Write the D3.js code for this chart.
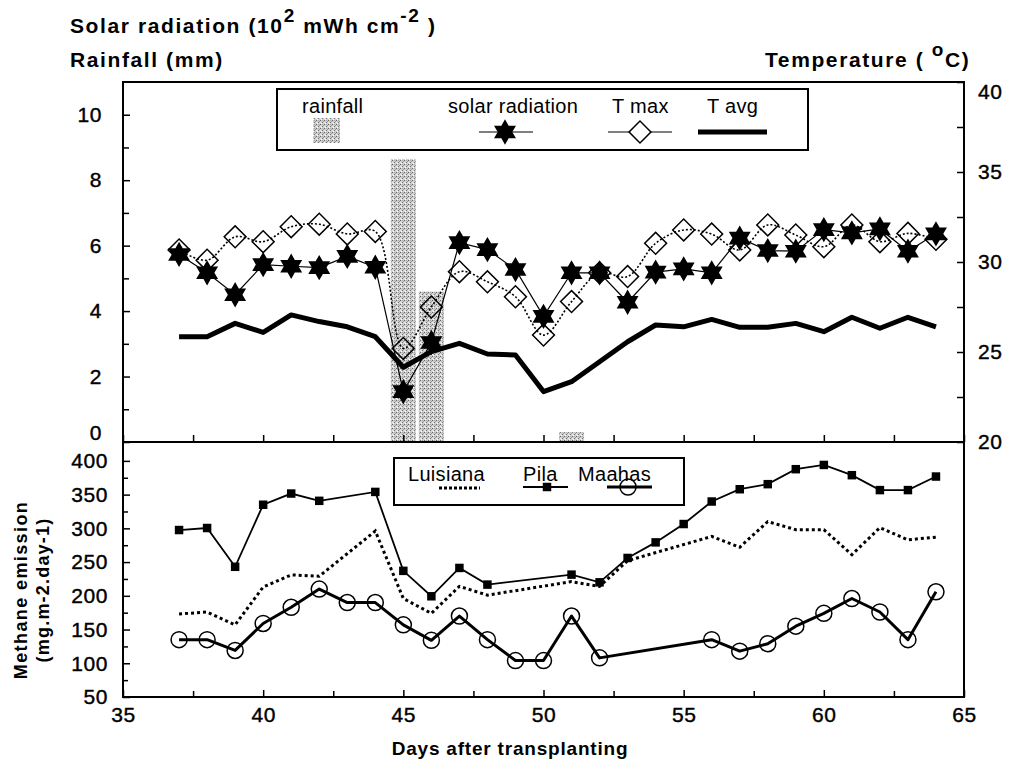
<!DOCTYPE html>
<html><head><meta charset="utf-8">
<script src="https://d3js.org/d3.v7.min.js"></script>
<style>
body{margin:0;background:#fff;}
svg{font-family:"Liberation Sans",Arial,Helvetica,sans-serif;}
</style></head>
<body><svg id="c" width="1021" height="765"></svg>
<script>
// ---------- data ----------
const days = [37,38,39,40,41,42,43,44,45,46,47,48,49,50,51,52,53,54,55,56,57,58,59,60,61,62,63,64];
const solarRadiation = [5.73,5.17,4.5,5.42,5.37,5.33,5.67,5.34,1.54,3.04,6.09,5.88,5.27,3.84,5.17,5.17,4.27,5.19,5.29,5.17,6.23,5.85,5.83,6.49,6.39,6.51,5.83,6.36];
const tMax = [30.67,30.1,31.4,31.13,31.96,32.1,31.56,31.7,25.2,27.5,29.46,28.9,28.07,25.94,27.8,29.4,29.19,31.04,31.78,31.55,30.67,32.06,31.5,30.85,32.06,31.13,31.59,31.26];
const tAvg = [25.85,25.85,26.59,26.09,27.06,26.69,26.4,25.85,24.15,25.02,25.48,24.89,24.83,22.8,23.35,24.46,25.57,26.5,26.4,26.81,26.37,26.37,26.59,26.13,26.93,26.32,26.93,26.4];
const rainDays = [45,46,51];
const rainfall = [8.65,4.6,0.3];

const pilaDays = [37,38,39,40,41,42,44,45,46,47,48,51,52,53,54,55,56,57,58,59,60,61,62,63,64];
const pila = [297.5,300.5,243,335,351.6,340.8,354,237,199.3,241.3,216.6,231.4,220,256.1,279.2,306.4,339.8,358,365.5,387.7,394,378.8,356.7,356.7,376.8];
const luisianaDays = [37,38,39,40,41,42,44,45,46,47,48,51,52,53,56,57,58,59,60,61,62,63,64];
const luisiana = [173,176,157,213,231,229,296,196,174,214,201,221,214,252,288,272,310,298,298,261,301,283,287];
const maahasDays = [37,38,39,40,41,42,43,44,45,46,47,48,49,50,51,52,56,57,58,59,60,61,62,63,64];
const maahas = [135,135,119,159,183,210,190,190,157,134,170,135,104,104,170,108,135,118,129,155,174,196,176,135,206];

const xTicks = [35,40,45,50,55,60,65];
const xMinorTicks = [37.5,42.5,47.5,52.5,57.5,62.5];
const leftTopTicks = [0,2,4,6,8,10];
const leftTopMinor = [1,3,5,7,9];
const rightTicks = [20,25,30,35,40];
const rightMinor = [22.5,27.5,32.5,37.5];
const methTicks = [50,100,150,200,250,300,350,400];
const methMinor = [75,125,175,225,275,325,375];

// ---------- layout ----------
const svg = d3.select("#c");
const X0 = 123, X1 = 964, YT = 82, YM = 442, YB = 697;
const x = d3.scaleLinear().domain([35,65]).range([X0,X1]);
const yL = d3.scaleLinear().domain([0,11]).range([YM,YT]);
const yR = d3.scaleLinear().domain([20,40]).range([YM,YT]);
const yM = d3.scaleLinear().domain([50,428]).range([YB,YM]);

svg.append("rect").attr("width",1021).attr("height",765).attr("fill","#fff");

// stipple pattern for rainfall
const defs = svg.append("defs");
const pat = defs.append("pattern").attr("id","stip").attr("width",4).attr("height",4).attr("patternUnits","userSpaceOnUse");
pat.append("rect").attr("width",4).attr("height",4).attr("fill","#cfcfcf");
[[0,0,"#666"],[2,2,"#777"],[1,3,"#fff"],[3,1,"#999"],[2,0,"#aaa"],[0,2,"#eee"]].forEach(([a,b,c])=>pat.append("rect").attr("x",a).attr("y",b).attr("width",1).attr("height",1).attr("fill",c));

// hexagram symbol
const hexStar = { draw(ctx, size){ const R=Math.sqrt(size), r=R/Math.sqrt(3);
  for(let i=0;i<12;i++){ const a=i*Math.PI/6-Math.PI/2, d=i%2?r:R;
    const px=d*Math.cos(a), py=d*Math.sin(a); i?ctx.lineTo(px,py):ctx.moveTo(px,py);} ctx.closePath(); } };
const starPath = d3.symbol().type(hexStar).size(160)();
const diamondPath = d3.symbol().type(d3.symbolSquare).size(240)();
const squarePath = d3.symbol().type(d3.symbolSquare).size(72)();

// ---------- top panel ----------
const gTop = svg.append("g");
gTop.selectAll("rect.rain").data(rainDays).join("rect")
  .attr("x",(d)=>x(d)-12.5).attr("width",25)
  .attr("y",(d,i)=>yL(rainfall[i])).attr("height",(d,i)=>yL(0)-yL(rainfall[i]))
  .attr("fill","url(#stip)");

const lineAvg = d3.line().x((d,i)=>x(days[i])).y(d=>yR(d));
gTop.append("path").datum(tAvg).attr("d",lineAvg).attr("fill","none").attr("stroke","#000").attr("stroke-width",5).attr("stroke-linejoin","round");

const lineMax = d3.line().x((d,i)=>x(days[i])).y(d=>yR(d)).curve(d3.curveCatmullRom.alpha(0.5));
gTop.append("path").datum(tMax).attr("d",lineMax).attr("fill","none").attr("stroke","#000").attr("stroke-width",1.6).attr("stroke-dasharray","2,2");

const lineSol = d3.line().x((d,i)=>x(days[i])).y(d=>yL(d));
gTop.append("path").datum(solarRadiation).attr("d",lineSol).attr("fill","none").attr("stroke","#000").attr("stroke-width",1.2);

gTop.selectAll("path.dia").data(tMax).join("path").attr("class","dia")
  .attr("d",diamondPath).attr("transform",(d,i)=>`translate(${x(days[i])},${yR(d)}) rotate(45)`)
  .attr("fill","none").attr("stroke","#000").attr("stroke-width",1.5);
gTop.selectAll("path.star").data(solarRadiation).join("path").attr("class","star")
  .attr("d",starPath).attr("transform",(d,i)=>`translate(${x(days[i])},${yL(d)})`).attr("fill","#000");

// ---------- bottom panel ----------
const gB = svg.append("g");
const lineP = d3.line().x((d,i)=>x(pilaDays[i])).y(d=>yM(d));
gB.append("path").datum(pila).attr("d",lineP).attr("fill","none").attr("stroke","#000").attr("stroke-width",1.8);
const lineL = d3.line().x((d,i)=>x(luisianaDays[i])).y(d=>yM(d));
gB.append("path").datum(luisiana).attr("d",lineL).attr("fill","none").attr("stroke","#000").attr("stroke-width",3).attr("stroke-dasharray","3,3");
const lineMa = d3.line().x((d,i)=>x(maahasDays[i])).y(d=>yM(d));
gB.append("path").datum(maahas).attr("d",lineMa).attr("fill","none").attr("stroke","#000").attr("stroke-width",3).attr("stroke-linejoin","round");
gB.selectAll("path.sq").data(pila).join("path").attr("d",squarePath)
  .attr("transform",(d,i)=>`translate(${x(pilaDays[i])},${yM(d)})`).attr("fill","#000");
gB.selectAll("circle.ma").data(maahas).join("circle")
  .attr("cx",(d,i)=>x(maahasDays[i])).attr("cy",d=>yM(d)).attr("r",8)
  .attr("fill","none").attr("stroke","#000").attr("stroke-width",1.5);

// ---------- axes ----------
function styleAxis(g){ g.select(".domain").remove();
  g.selectAll(".tick line").attr("stroke","#000").attr("stroke-width",1.5);
  g.selectAll(".tick text").attr("font-size",21).attr("fill","#000").attr("stroke","#000").attr("stroke-width",0.4)
    .attr("letter-spacing",0.6).attr("font-family","Liberation Sans, Arial, sans-serif"); return g; }

styleAxis(svg.append("g").attr("transform",`translate(${X0},0)`).call(d3.axisLeft(yL).tickValues(leftTopTicks).tickSize(-7).tickPadding(21)));
styleAxis(svg.append("g").attr("transform",`translate(${X0},0)`).call(d3.axisLeft(yL).tickValues(leftTopMinor).tickSize(-6).tickFormat("")));
const axR = styleAxis(svg.append("g").attr("transform",`translate(${X1},0)`).call(d3.axisRight(yR).tickValues(rightTicks).tickSize(-7).tickPadding(14)));
axR.selectAll(".tick text").filter(d=>d===40).attr("dy","0.8em");
styleAxis(svg.append("g").attr("transform",`translate(${X1},0)`).call(d3.axisRight(yR).tickValues(rightMinor).tickSize(-7).tickFormat("")));
styleAxis(svg.append("g").attr("transform",`translate(0,${YM})`).call(d3.axisBottom(x).tickValues(xTicks.concat(xMinorTicks)).tickSize(-7).tickFormat("")));
styleAxis(svg.append("g").attr("transform",`translate(${X0},0)`).call(d3.axisLeft(yM).tickValues(methTicks).tickSize(-7).tickPadding(15)));
styleAxis(svg.append("g").attr("transform",`translate(${X0},0)`).call(d3.axisLeft(yM).tickValues(methMinor).tickSize(-5).tickFormat("")));
styleAxis(svg.append("g").attr("transform",`translate(0,${YB})`).call(d3.axisBottom(x).tickValues(xTicks).tickSize(-7).tickPadding(10)));
styleAxis(svg.append("g").attr("transform",`translate(0,${YB})`).call(d3.axisBottom(x).tickValues(xMinorTicks).tickSize(-6).tickFormat("")));
svg.selectAll(".tick text").filter(function(d){return d===0;}).attr("dy","-0.1em");

// frames
const fr = svg.append("g").attr("fill","none").attr("stroke","#000").attr("stroke-width",2);
fr.append("rect").attr("x",X0).attr("y",YT).attr("width",X1-X0).attr("height",YB-YT);
fr.append("line").attr("x1",X0).attr("x2",X1).attr("y1",YM).attr("y2",YM);

// ---------- legends ----------
const lg = svg.append("g").attr("font-size",20).attr("letter-spacing",0.3);
lg.append("rect").attr("x",277).attr("y",89).attr("width",531).attr("height",61).attr("fill","#fff").attr("stroke","#000").attr("stroke-width",2);
lg.append("text").attr("x",302).attr("y",113).text("rainfall");
lg.append("text").attr("x",448).attr("y",113).text("solar radiation");
lg.append("text").attr("x",612).attr("y",113).text("T max");
lg.append("text").attr("x",707).attr("y",113).text("T avg");
lg.append("rect").attr("x",313).attr("y",118).attr("width",27).attr("height",25).attr("fill","url(#stip)");
lg.append("line").attr("x1",479).attr("x2",533).attr("y1",132).attr("y2",132).attr("stroke","#000").attr("stroke-width",1.2);
lg.append("path").attr("d",starPath).attr("transform","translate(505,132)");
lg.append("line").attr("x1",608).attr("x2",672).attr("y1",132).attr("y2",132).attr("stroke","#000").attr("stroke-width",1.2);
lg.append("path").attr("d",diamondPath).attr("transform","translate(640,132) rotate(45)").attr("fill","#fff").attr("stroke","#000").attr("stroke-width",1.5);
lg.append("line").attr("x1",698).attr("x2",767).attr("y1",132).attr("y2",132).attr("stroke","#000").attr("stroke-width",5);

const lb = svg.append("g").attr("font-size",20).attr("letter-spacing",0.3);
lb.append("rect").attr("x",394).attr("y",458).attr("width",290).attr("height",47).attr("fill","#fff").attr("stroke","#000").attr("stroke-width",2);
lb.append("text").attr("x",408).attr("y",481).text("Luisiana");
lb.append("text").attr("x",523).attr("y",481).text("Pila");
lb.append("text").attr("x",578).attr("y",481).text("Maahas");
lb.append("line").attr("x1",439).attr("x2",480).attr("y1",488).attr("y2",488).attr("stroke","#000").attr("stroke-width",3).attr("stroke-dasharray","3,2");
lb.append("line").attr("x1",523).attr("x2",568).attr("y1",487).attr("y2",487).attr("stroke","#000").attr("stroke-width",1.8);
lb.append("path").attr("d",squarePath).attr("transform","translate(547,487)");
lb.append("line").attr("x1",607).attr("x2",652).attr("y1",487).attr("y2",487).attr("stroke","#000").attr("stroke-width",3);
lb.append("circle").attr("cx",628).attr("cy",487).attr("r",8).attr("fill","none").attr("stroke","#000").attr("stroke-width",1.5);

// ---------- titles ----------
const tt = svg.append("g").attr("font-weight","bold").attr("font-size",21).attr("letter-spacing",1.6);
const t1 = tt.append("text").attr("x",70).attr("y",33);
t1.append("tspan").text("Solar radiation (10");
t1.append("tspan").attr("dy",-11).attr("font-size",19).text("2");
t1.append("tspan").attr("dy",11).text(" mWh cm");
t1.append("tspan").attr("dy",-11).attr("font-size",19).text("-2");
t1.append("tspan").attr("dy",11).text(" )");
tt.append("text").attr("x",70).attr("y",67).text("Rainfall (mm)");
const t3 = tt.append("text").attr("x",765).attr("y",67);
t3.append("tspan").text("Temperature ( ");
t3.append("tspan").attr("dy",-11).attr("font-size",19).text("o");
t3.append("tspan").attr("dy",11).text("C)");

svg.append("text").attr("x",510).attr("y",755).attr("text-anchor","middle").attr("font-weight","bold").attr("font-size",19).attr("letter-spacing",0.8).text("Days after transplanting");
svg.append("text").attr("transform","translate(27,590) rotate(-90)").attr("text-anchor","middle").attr("font-weight","bold").attr("font-size",18).attr("letter-spacing",1.4).text("Methane emission");
svg.append("text").attr("transform","translate(49,590) rotate(-90)").attr("text-anchor","middle").attr("font-weight","bold").attr("font-size",18).attr("letter-spacing",1.2).text("(mg.m-2.day-1)");
</script></body></html>
